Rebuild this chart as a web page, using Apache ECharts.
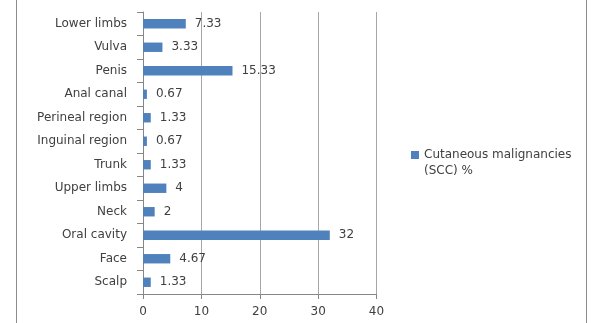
<!DOCTYPE html>
<html><head><meta charset="utf-8">
<script src="https://cdn.jsdelivr.net/npm/echarts@6/dist/echarts.min.js"></script>
<style>html,body{margin:0;padding:0;background:#fff}#c{width:600px;height:323px}</style>
</head><body><div id="c"></div>
<script>
const categories = ['Scalp','Face','Oral cavity','Neck','Upper limbs','Trunk','Inguinal region','Perineal region','Anal canal','Penis','Vulva','Lower limbs'];
const values = [1.33,4.67,32,2,4,1.33,0.67,1.33,0.67,15.33,3.33,7.33];
const xTicks = [0,10,20,30,40];
const seriesName = 'Cutaneous malignancies (SCC) %';

const chart = echarts.init(document.getElementById('c'), null, {renderer:'canvas'});
const txt = {fontFamily:'DejaVu Sans', fontSize:12, color:'#404040'};
chart.setOption({
  animation:false,
  graphic:[{type:'rect', silent:true, shape:{x:16.5,y:-5,width:570,height:340}, style:{fill:'none',stroke:'#8c8c8c',lineWidth:1}}],
  grid:{left:143, right:223.5, top:12, bottom:29},
  legend:{
    left:406, top:126, orient:'vertical', itemWidth:8, itemHeight:8, itemGap:4,
    icon:'rect',
    textStyle:Object.assign({}, txt, {fontSize:12, lineHeight:16}),
    formatter:()=> ' \nCutaneous malignancies\n(SCC) %',
    data:[seriesName]
  },
  xAxis:{type:'value', min:xTicks[0], max:xTicks[xTicks.length-1], interval:10,
    axisLine:{show:true, lineStyle:{color:'#868686'}},
    axisTick:{show:true, length:5, lineStyle:{color:'#868686'}},
    axisLabel:Object.assign({}, txt, {margin:12}),
    splitLine:{show:true, lineStyle:{color:'#a6a6a6', width:1}}
  },
  yAxis:{type:'category', data:categories,
    axisLine:{show:true, lineStyle:{color:'#868686'}},
    axisTick:{show:true, length:6, lineStyle:{color:'#868686'}},
    axisLabel:Object.assign({}, txt, {margin:16})
  },
  series:[{name:seriesName, type:'bar', data:values, barWidth:'40%',
    itemStyle:{color:'#4F81BD'},
    label:{show:true, position:'right', distance:9, fontFamily:'DejaVu Sans', fontSize:12, color:'#404040',
      formatter:p=>String(p.value)}
  }]
});
</script></body></html>
